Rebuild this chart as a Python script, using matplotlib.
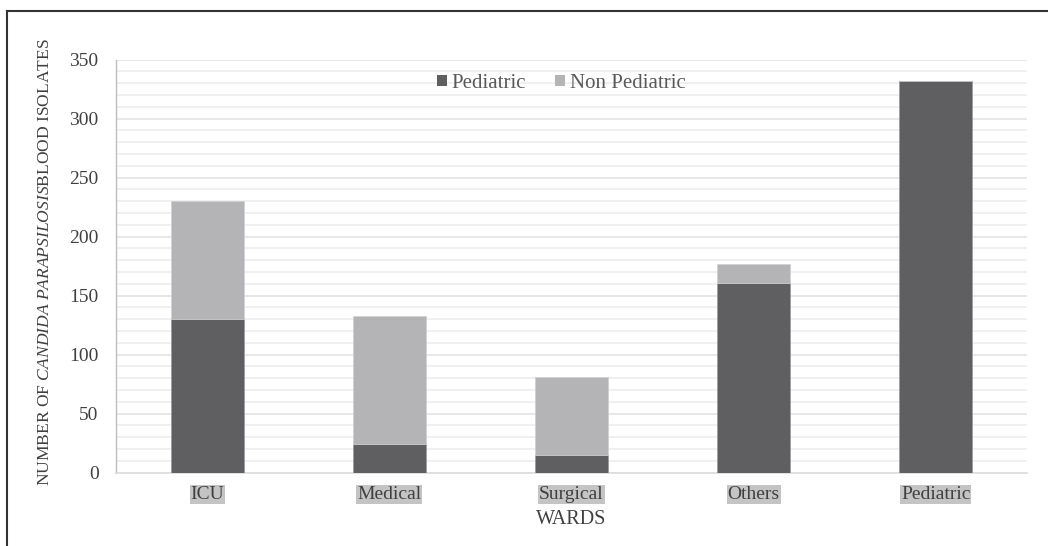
import matplotlib
matplotlib.use("Agg")
import matplotlib.pyplot as plt
from matplotlib.lines import Line2D
from matplotlib.patches import Patch
import numpy as np

wards = ["ICU", "Medical", "Surgical", "Others", "Pediatric"]
pediatric = [130, 24, 15, 161, 332]
non_pediatric = [100, 109, 66, 16, 0]
yticks = [0, 50, 100, 150, 200, 250, 300, 350]

plt.rcParams['font.family'] = ['Liberation Serif', 'DejaVu Serif']
plt.rcParams['mathtext.fontset'] = 'custom'
plt.rcParams['mathtext.rm'] = 'Liberation Serif'
plt.rcParams['mathtext.it'] = 'Liberation Serif:italic'

W, H = 1048, 546
fig = plt.figure(figsize=(W/100, H/100), dpi=100)
ax = fig.add_axes([116/W, 1 - 472.7/H, (1027-116)/W, (472.7-59.5)/H])

dark = '#5f5f61'
light = '#b4b4b7'
x = np.arange(len(wards))
ax.bar(x, pediatric, width=0.4, color=dark, edgecolor='#9a9a9a', linewidth=0.5, zorder=3, label='Pediatric')
ax.bar(x, non_pediatric, width=0.4, bottom=pediatric, color=light, edgecolor='#d0d0d0', linewidth=0.5, zorder=3, label='Non Pediatric')

ax.set_xlim(-0.5, 4.5)
ax.set_ylim(0, 350)
ax.set_yticks(yticks)
ax.set_yticks(np.arange(0, 351, 10), minor=True)
ax.grid(axis='y', which='major', color='#e4e4e4', linewidth=1.2, zorder=0)
ax.grid(axis='y', which='minor', color='#ececec', linewidth=1.1, zorder=0)
ax.tick_params(axis='y', which='both', length=0, labelsize=14, labelcolor='#404040', pad=12.5)
ax.tick_params(axis='x', length=0, labelsize=14, labelcolor='#404040', pad=9.5)
ax.set_xticks(x)
ax.set_xticklabels(wards)
for lbl in ax.get_xticklabels():
    lbl.set_bbox(dict(facecolor='#c4c4c4', edgecolor='none', pad=0.5))

for s in ['top', 'right']:
    ax.spines[s].set_visible(False)
ax.spines['left'].set_color('#bdbdbd')
ax.spines['bottom'].set_color('#dcdcdc')
ax.spines['left'].set_linewidth(1.0)
ax.spines['bottom'].set_linewidth(1.2)

ax.set_xlabel('WARDS', fontsize=14.5, color='#404040', labelpad=5)
ax.set_ylabel(r'NUMBER OF $\mathit{CANDIDA\ PARAPSILOSIS}$BLOOD ISOLATES', fontsize=12.6, color='#404040')
ax.yaxis.set_label_coords(-0.069, 0.51)

handles = [Patch(facecolor=dark), Patch(facecolor=light)]
leg = ax.legend(handles, ['Pediatric', 'Non Pediatric'], loc='center', bbox_to_anchor=(0.489, 0.943),
                ncol=2, frameon=False, fontsize=15, handlelength=0.45, handleheight=0.45,
                handletextpad=0.25, columnspacing=1.4, labelcolor='#595959')

# partial figure border (top and left)
fig.add_artist(Line2D([7/W, 7/W], [0, 1 - 11/H], transform=fig.transFigure, color='#333333', linewidth=1.5))
fig.add_artist(Line2D([7/W, 1], [1 - 11/H, 1 - 11/H], transform=fig.transFigure, color='#333333', linewidth=1.5))

fig.savefig('out.png', dpi=100)
